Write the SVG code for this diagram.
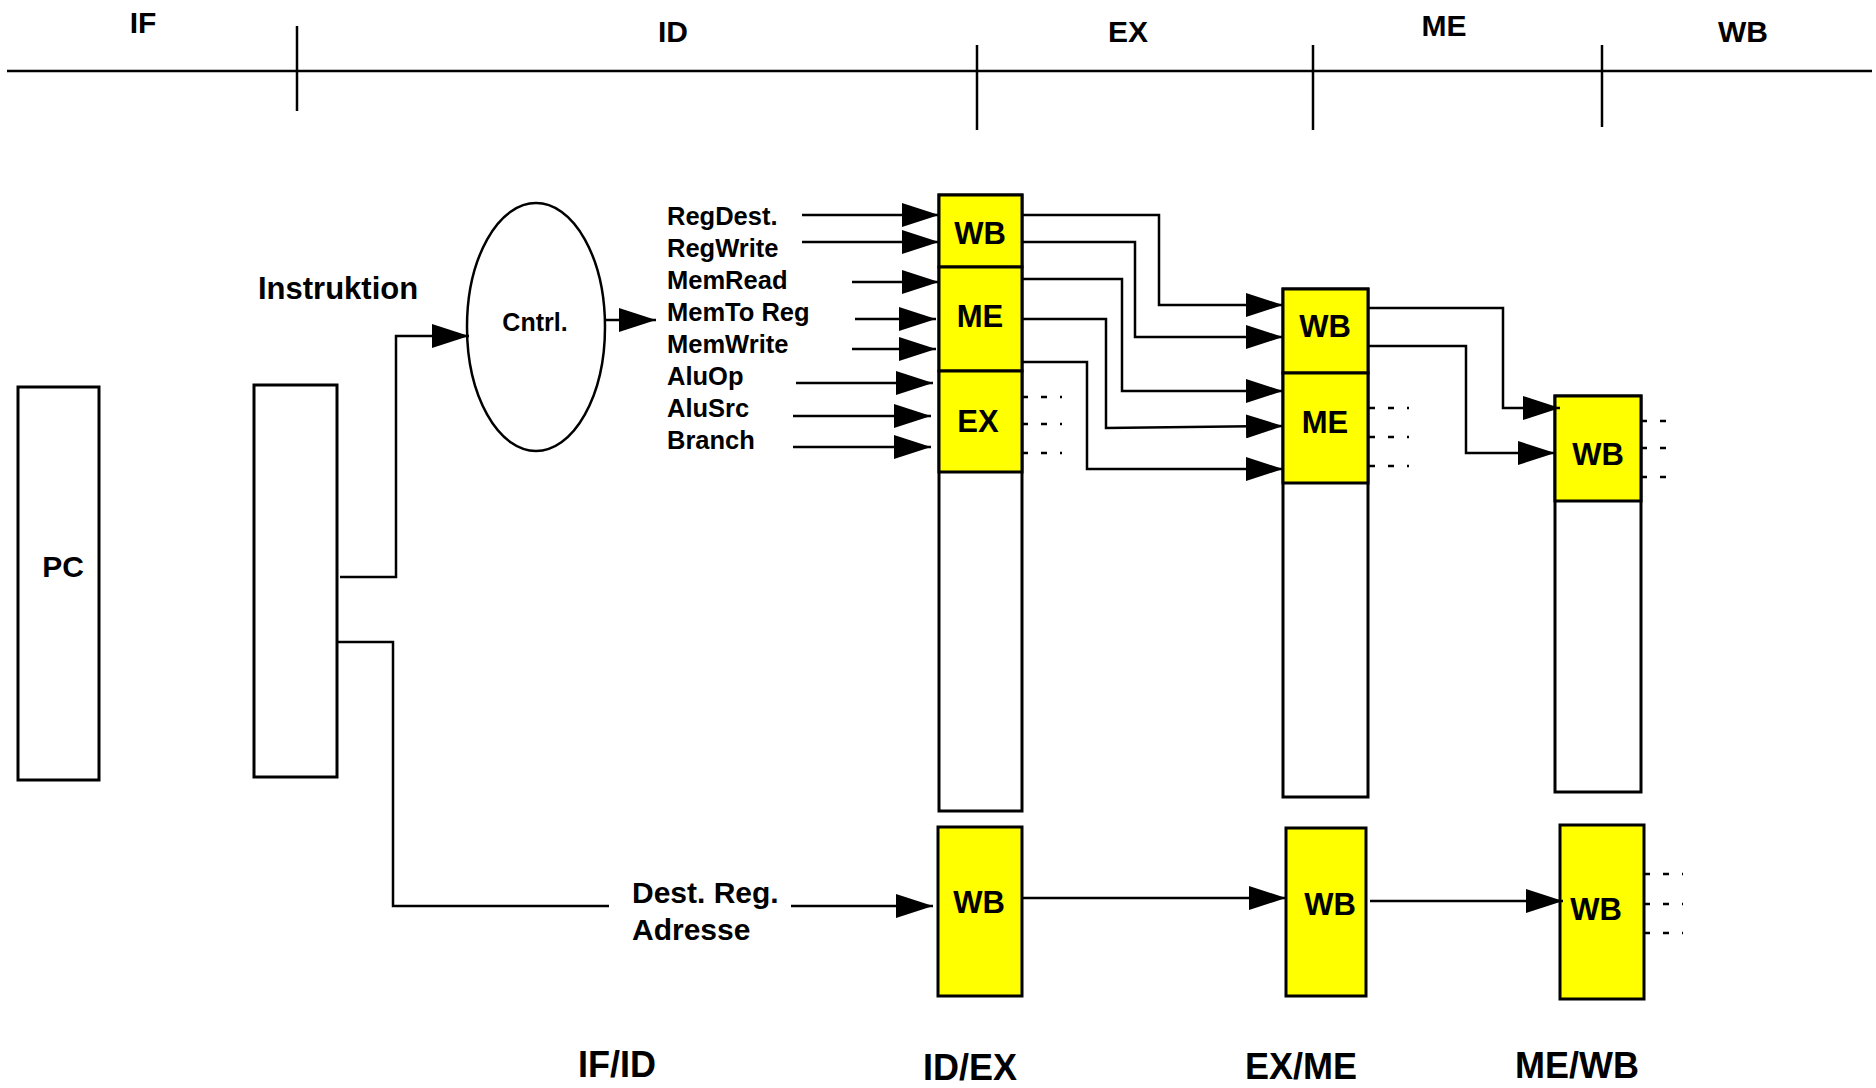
<svg xmlns="http://www.w3.org/2000/svg" width="1876" height="1088" viewBox="0 0 1876 1088">
<style>
text{font-family:"Liberation Sans",Arial,sans-serif;font-weight:bold;fill:#000}
.stage{font-size:30px;text-anchor:middle}
.reg{font-size:31px;text-anchor:middle}
.sig{font-size:25.5px}
.big{font-size:36px;text-anchor:middle}
.box{fill:#fff;stroke:#000;stroke-width:3}
.yel{fill:#ffff00;stroke:#000;stroke-width:3}
.ln{fill:none;stroke:#000;stroke-width:2.5}
.arr{fill:none;stroke:#000;stroke-width:2.5;marker-end:url(#ah)}
.dot{fill:none;stroke:#000;stroke-width:2.5;stroke-dasharray:6 13}
</style>
<defs>
<marker id="ah" markerUnits="userSpaceOnUse" markerWidth="38" markerHeight="24" refX="37" refY="12" orient="auto">
<path d="M0,0 L37,12 L0,24 z" fill="#000"/>
</marker>
</defs>
<rect width="1876" height="1088" fill="#fff"/>

<g id="timeline">
<line class="ln" x1="7" y1="71" x2="1872" y2="71" stroke-width="3"/>
<line class="ln" x1="297" y1="26" x2="297" y2="111"/>
<line class="ln" x1="977" y1="45" x2="977" y2="130"/>
<line class="ln" x1="1313" y1="45" x2="1313" y2="130"/>
<line class="ln" x1="1602" y1="45" x2="1602" y2="127"/>
<text class="stage" x="143" y="33">IF</text>
<text class="stage" x="673" y="42">ID</text>
<text class="stage" x="1128" y="42">EX</text>
<text class="stage" x="1444" y="36">ME</text>
<text class="stage" x="1743" y="42">WB</text>
</g>

<g id="pc">
<rect class="box" x="18" y="387" width="81" height="393"/>
<text x="63" y="577" style="font-size:30px;text-anchor:middle">PC</text>
</g>

<g id="ifid">
<rect class="box" x="254" y="385" width="83" height="392"/>
</g>

<text x="258" y="299" style="font-size:31px">Instruktion</text>

<g id="cntrl">
<ellipse cx="536" cy="327" rx="69" ry="124" fill="#fff" stroke="#000" stroke-width="2.5"/>
<text x="535" y="331" style="font-size:25px;text-anchor:middle">Cntrl.</text>
</g>

<g id="signals">
<text class="sig" x="667" y="225">RegDest.</text>
<text class="sig" x="667" y="257">RegWrite</text>
<text class="sig" x="667" y="289">MemRead</text>
<text class="sig" x="667" y="321">MemTo Reg</text>
<text class="sig" x="667" y="353">MemWrite</text>
<text class="sig" x="667" y="385">AluOp</text>
<text class="sig" x="667" y="417">AluSrc</text>
<text class="sig" x="667" y="449">Branch</text>
</g>

<g id="idex">
<rect class="box" x="939" y="195" width="83" height="616"/>
<rect class="yel" x="939" y="195" width="83" height="72"/>
<rect class="yel" x="939" y="267" width="83" height="104"/>
<rect class="yel" x="939" y="371" width="83" height="101"/>
<text class="reg" x="980" y="244">WB</text>
<text class="reg" x="980" y="327">ME</text>
<text class="reg" x="978" y="432">EX</text>
</g>

<g id="exme">
<rect class="box" x="1283" y="289" width="85" height="508"/>
<rect class="yel" x="1283" y="289" width="85" height="84"/>
<rect class="yel" x="1283" y="373" width="85" height="110"/>
<text class="reg" x="1325" y="337">WB</text>
<text class="reg" x="1325" y="433">ME</text>
</g>

<g id="mewb">
<rect class="box" x="1555" y="396" width="86" height="396"/>
<rect class="yel" x="1555" y="396" width="86" height="105"/>
<text class="reg" x="1598" y="465">WB</text>
</g>

<g id="idex-wb2">
<rect class="yel" x="938" y="827" width="84" height="169"/>
<text class="reg" x="979" y="913">WB</text>
</g>
<g id="exme-wb2">
<rect class="yel" x="1286" y="828" width="80" height="168"/>
<text class="reg" x="1330" y="915">WB</text>
</g>
<g id="mewb-wb2">
<rect class="yel" x="1560" y="825" width="84" height="174"/>
<text class="reg" x="1596" y="920">WB</text>
</g>

<g id="destreg">
<text x="632" y="903" style="font-size:30px">Dest. Reg.</text>
<text x="632" y="940" style="font-size:30px">Adresse</text>
</g>

<g id="labels">
<text class="big" x="617" y="1077">IF/ID</text>
<text class="big" x="970" y="1080">ID/EX</text>
<text class="big" x="1301" y="1079">EX/ME</text>
<text class="big" x="1577" y="1078">ME/WB</text>
</g>

<g id="connectors">
<polyline class="arr" points="340,577 396,577 396,336 469,336"/>
<polyline class="ln" points="337,642 393,642 393,906 609,906"/>
<line class="arr" x1="605" y1="320" x2="656" y2="320"/>

<line class="arr" x1="802" y1="215" x2="939" y2="215"/>
<line class="arr" x1="802" y1="242" x2="939" y2="242"/>
<line class="arr" x1="852" y1="282" x2="939" y2="282"/>
<line class="arr" x1="855" y1="319" x2="936" y2="319"/>
<line class="arr" x1="852" y1="349" x2="936" y2="349"/>
<line class="arr" x1="796" y1="383" x2="933" y2="383"/>
<line class="arr" x1="793" y1="416" x2="931" y2="416"/>
<line class="arr" x1="793" y1="447" x2="931" y2="447"/>

<polyline class="arr" points="1022,215 1159,215 1159,305 1283,305"/>
<polyline class="arr" points="1022,242 1135,242 1135,337 1283,337"/>
<polyline class="arr" points="1022,279 1122,279 1122,391 1283,391"/>
<polyline class="arr" points="1022,319 1106,319 1106,428 1283,426"/>
<polyline class="arr" points="1022,362 1087,362 1087,469 1283,469"/>

<polyline class="arr" points="1369,308 1503,308 1503,408 1560,408"/>
<polyline class="arr" points="1369,346 1466,346 1466,453 1555,453"/>

<line class="arr" x1="791" y1="906" x2="933" y2="906"/>
<line class="arr" x1="1022" y1="898" x2="1286" y2="898"/>
<line class="arr" x1="1370" y1="901" x2="1563" y2="901"/>

<line class="dot" x1="1022" y1="397" x2="1062" y2="397"/>
<line class="dot" x1="1022" y1="424" x2="1062" y2="424"/>
<line class="dot" x1="1022" y1="453" x2="1062" y2="453"/>
<line class="dot" x1="1369" y1="408" x2="1409" y2="408"/>
<line class="dot" x1="1369" y1="437" x2="1409" y2="437"/>
<line class="dot" x1="1369" y1="466" x2="1409" y2="466"/>
<line class="dot" x1="1641" y1="421" x2="1677" y2="421"/>
<line class="dot" x1="1641" y1="448" x2="1677" y2="448"/>
<line class="dot" x1="1641" y1="477" x2="1677" y2="477"/>
<line class="dot" x1="1644" y1="874" x2="1683" y2="874"/>
<line class="dot" x1="1644" y1="904" x2="1683" y2="904"/>
<line class="dot" x1="1644" y1="933" x2="1683" y2="933"/>
</g>
</svg>
